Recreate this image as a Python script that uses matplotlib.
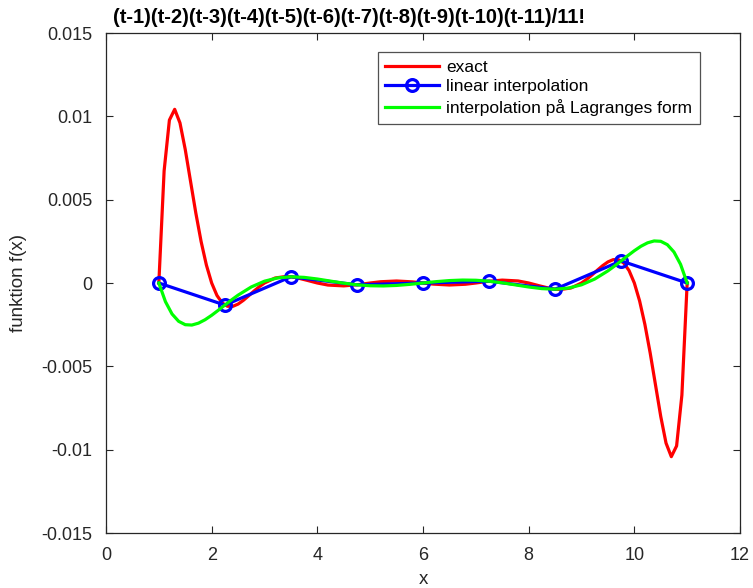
import matplotlib
matplotlib.use("Agg")
import matplotlib.pyplot as plt

plt.rcParams['font.family'] = ['Liberation Sans', 'DejaVu Sans']

# exact polynomial, sampled
x_exact = [1.0, 1.1, 1.2, 1.3, 1.4, 1.5, 1.6, 1.7, 1.8, 1.9, 2.0,
           2.1, 2.2, 2.3, 2.4, 2.5, 2.6, 2.7, 2.8, 2.9, 3.0,
           3.2, 3.4, 3.5, 3.6, 3.8, 4.0, 4.2, 4.5, 4.8, 5.0,
           5.2, 5.5, 5.8, 6.0, 6.2, 6.5, 6.8, 7.0, 7.2, 7.5, 7.8, 8.0,
           8.2, 8.4, 8.5, 8.6, 8.8, 9.0,
           9.1, 9.2, 9.3, 9.4, 9.5, 9.6, 9.7, 9.8, 9.9, 10.0,
           10.1, 10.2, 10.3, 10.4, 10.5, 10.6, 10.7, 10.8, 10.9, 11.0]
y_exact = [0.0, 0.006728, 0.009775, 0.01042, 0.009606, 0.008009, 0.006103, 0.0042, 0.00249, 0.001078, 0.0,
           -0.000747, -0.001197, -0.001397, -0.001401, -0.001265, -0.001039, -0.000768, -0.000487, -0.000225, 0.0,
           0.000299, 0.000391, 0.000372, 0.000322, 0.000166, 0.0, -0.000123, -0.0001736, -0.0000878, 0.0,
           0.0000758, 0.00012, 0.000068, 0.0, -0.000068, -0.00012, -0.0000758, 0.0, 0.0000878, 0.0001736, 0.000123, 0.0,
           -0.000166, -0.000322, -0.000372, -0.000391, -0.000299, 0.0,
           0.000225, 0.000487, 0.000768, 0.001039, 0.001265, 0.001401, 0.001397, 0.001197, 0.000747, 0.0,
           -0.001078, -0.00249, -0.0042, -0.006103, -0.008009, -0.009606, -0.01042, -0.009775, -0.006728, 0.0]

# nodes for the linear interpolation
x_nodes = [1.0, 2.25, 3.5, 4.75, 6.0, 7.25, 8.5, 9.75, 11.0]
y_nodes = [0.0, -0.001325, 0.000372, -0.000108, 0.0, 0.000108, -0.000372, 0.001325, 0.0]

# Lagrange polynomial through the nodes
x_lag = [1.0, 1.125, 1.25, 1.375, 1.5, 1.625, 1.75, 1.875, 2.0, 2.125, 2.25, 2.375, 2.5,
         2.75, 3.0, 3.25, 3.5, 3.75, 4.0, 4.25, 4.5, 4.75, 5.0, 5.25, 5.5, 5.75, 6.0,
         6.25, 6.5, 6.75, 7.0, 7.25, 7.5, 7.75, 8.0, 8.25, 8.5, 8.75, 9.0, 9.25,
         9.5, 9.625, 9.75, 9.875, 10.0, 10.125, 10.25, 10.375, 10.5, 10.625, 10.75, 10.875, 11.0]
y_lag = [0.0, -0.001119, -0.00186, -0.002299, -0.0025016, -0.002523, -0.0024098, -0.002204, -0.001937,
         -0.001637, -0.0013245, -0.001018, -0.0007286,
         -0.0002374, 0.000109, 0.0003062, 0.000372, 0.0003377, 0.0002396, 0.0001132, -0.0000104,
         -0.000108, -0.0001652, -0.0001767, -0.0001454, -0.0000815, 0.0,
         0.0000815, 0.0001454, 0.0001767, 0.0001652, 0.000108, 0.0000104, -0.0001132, -0.0002396,
         -0.0003377, -0.000372, -0.0003062, -0.000109, 0.0002374,
         0.0007286, 0.001018, 0.0013245, 0.001637, 0.001937, 0.002204, 0.0024098, 0.002523, 0.0025016,
         0.002299, 0.00186, 0.001119, 0.0]

fig = plt.figure(figsize=(7.53, 5.88), dpi=100)
ax = fig.add_axes([106 / 753, 1 - 533 / 588, 634 / 753, 500 / 588])

ax.plot(x_exact, y_exact, color='#ff0000', lw=2.3, label='exact')
ax.plot(x_nodes, y_nodes, color='#0000ff', lw=2.3, marker='o', ms=8.5,
        mfc='none', mec='#0000ff', mew=2.3, label='linear interpolation')
ax.plot(x_lag, y_lag, color='#00ff00', lw=2.3, label='interpolation på Lagranges form')

ax.set_xlim(0, 12)
ax.set_ylim(-0.015, 0.015)
ax.set_xticks([0, 2, 4, 6, 8, 10, 12])
ax.set_yticks([-0.015, -0.01, -0.005, 0, 0.005, 0.01, 0.015])
ax.set_yticklabels(['-0.015', '-0.01', '-0.005', '0', '0.005', '0.01', '0.015'])
ax.tick_params(direction='in', top=True, right=True, length=5, width=0.8,
               labelsize=13, colors='#262626', pad=10)
for s in ax.spines.values():
    s.set_color('#262626')
    s.set_linewidth(0.9)

ax.set_xlabel('x', fontsize=13.5, color='#262626')
ax.set_ylabel('funktion f(x)', fontsize=13.5, color='#262626')
ax.xaxis.set_label_coords(0.5, -0.076)
ax.yaxis.set_label_coords(-0.124, 0.5)
fig.text(113 / 753, 1 - 23 / 588, '(t-1)(t-2)(t-3)(t-4)(t-5)(t-6)(t-7)(t-8)(t-9)(t-10)(t-11)/11!',
         fontsize=14.5, fontweight='bold', ha='left', va='baseline')

leg = ax.legend(loc='upper right', bbox_to_anchor=(700 / 753, 1 - 52 / 588),
                bbox_transform=fig.transFigure, borderaxespad=0, fontsize=12.5,
                handlelength=3.1, frameon=True, fancybox=False, borderpad=0.45,
                labelspacing=0.25, handletextpad=0.4)
leg.get_frame().set_edgecolor('#262626')
leg.get_frame().set_linewidth(0.9)

fig.savefig('out.png', dpi=100)
